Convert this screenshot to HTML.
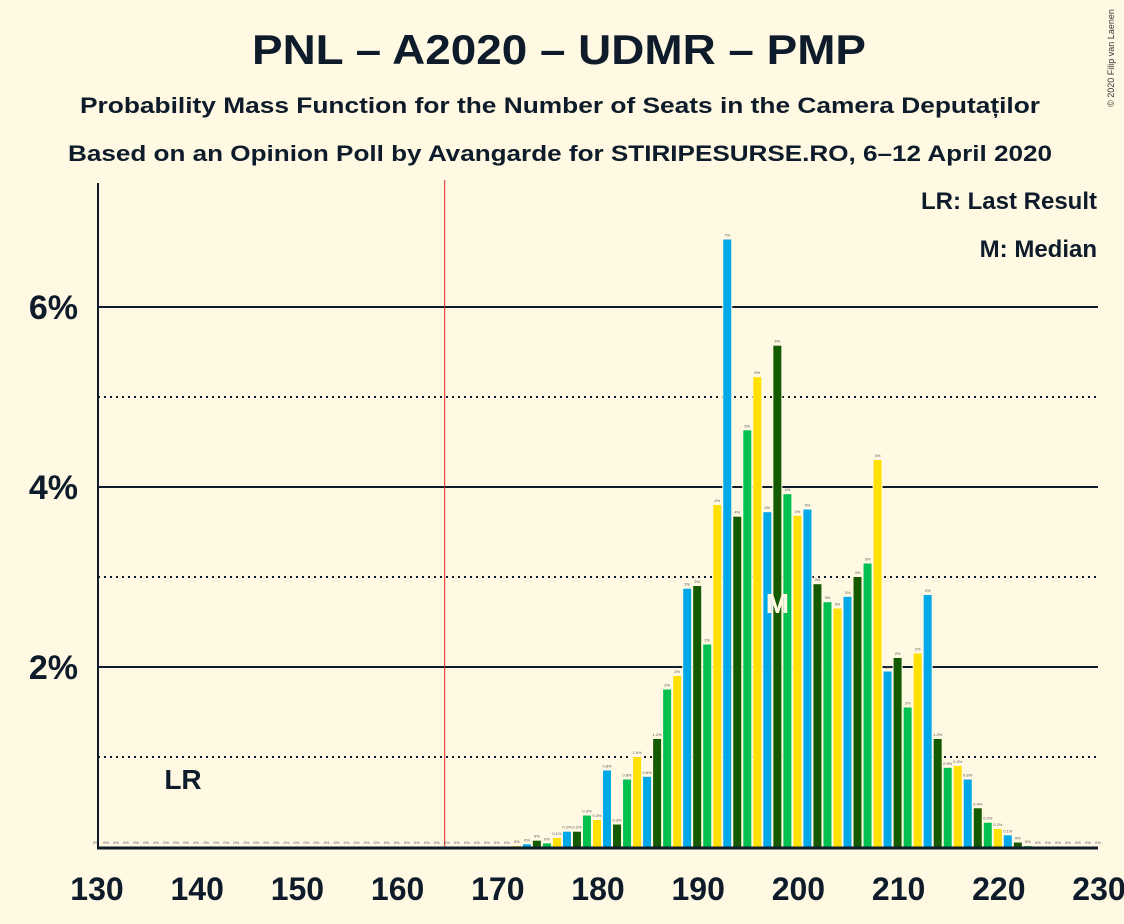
<!DOCTYPE html>
<html><head><meta charset="utf-8"><style>
body{margin:0;background:#fff9e3;}
svg{display:block;font-family:"Liberation Sans",sans-serif;}
</style></head><body>
<svg id="c" width="1124" height="924">
<rect width="1124" height="924" fill="#fff9e3"/>
<text x="252" y="64" textLength="614" lengthAdjust="spacingAndGlyphs" font-size="42" font-weight="bold" fill="#0d1b2a">PNL – A2020 – UDMR – PMP</text>
<text x="80" y="113" textLength="960" lengthAdjust="spacingAndGlyphs" font-size="22" font-weight="bold" fill="#0d1b2a">Probability Mass Function for the Number of Seats in the Camera Deputaților</text>
<text x="68" y="161" textLength="984" lengthAdjust="spacingAndGlyphs" font-size="22" font-weight="bold" fill="#0d1b2a">Based on an Opinion Poll by Avangarde for STIRIPESURSE.RO, 6–12 April 2020</text>
<text x="1114" y="58" font-size="9" fill="#333" transform="rotate(-90 1114 58)" text-anchor="middle">© 2020 Filip van Laenen</text>
<text x="1097" y="209" text-anchor="end" font-size="24" font-weight="bold" fill="#0d1b2a">LR: Last Result</text>
<text x="1097" y="257" text-anchor="end" font-size="24" font-weight="bold" fill="#0d1b2a">M: Median</text>
<g id="grid"></g><g id="bars"></g><g id="axes"></g>
</svg>
<script>
const seats=[];for(let s=130;s<=230;s++)seats.push(s);
const probs={172:0.01,173:0.03,174:0.07,175:0.04,176:0.1,177:0.17,178:0.17,179:0.35,180:0.3,181:0.85,182:0.25,183:0.75,184:1.0,185:0.78,186:1.2,187:1.75,188:1.9,189:2.87,190:2.9,191:2.25,192:3.8,193:6.75,194:3.67,195:4.63,196:5.22,197:3.72,198:5.57,199:3.92,200:3.68,201:3.75,202:2.92,203:2.72,204:2.65,205:2.78,206:3.0,207:3.15,208:4.3,209:1.95,210:2.1,211:1.55,212:2.15,213:2.8,214:1.2,215:0.88,216:0.9,217:0.75,218:0.43,219:0.27,220:0.2,221:0.13,222:0.05,223:0.01};
const xTicks=[130,140,150,160,170,180,190,200,210,220,230];
const yTicks=[2,4,6];
const yMinor=[1,3,5];
const lastResult=165, median=198;
const NS='http://www.w3.org/2000/svg';
const X=s=>96+(s-130)*10.02, Y=v=>847-v*90;
const colors=['#ffe000','#00a8e8','#145a00','#00c050'];
function mk(t,a,p){const e=document.createElementNS(NS,t);for(const k in a)e.setAttribute(k,a[k]);p.appendChild(e);return e;}
const grid=document.getElementById('grid'),bars=document.getElementById('bars'),axes=document.getElementById('axes');
yTicks.forEach(v=>{const l=mk('line',{x1:98,x2:1098,y1:Y(v),y2:Y(v),stroke:'#0d1b2a','stroke-width':2},grid);

const t=mk('text',{x:78,y:Y(v)+12,'text-anchor':'end','font-size':34,'font-weight':'bold',fill:'#0d1b2a'},axes);t.textContent=v+'%';
});
yMinor.forEach(v=>{const l=mk('line',{x1:98,x2:1098,y1:Y(v),y2:Y(v),stroke:'#0d1b2a','stroke-width':2,'stroke-dasharray':'2,4'},grid);
});
seats.forEach(s=>{const v=probs[s]||0;const x=X(s);
if(v>0){const r=mk('rect',{x:x-5,y:Y(v)-1,width:10,height:v*90+1,fill:'#fff9e3'},bars);

const b=mk('rect',{x:x-4,y:Y(v),width:8,height:v*90,fill:colors[s%4]},bars);
}
const t=mk('text',{x:x,y:Y(v)-3,'text-anchor':'middle','font-size':4,fill:'#555'},bars);
t.textContent=v>=1.5?Math.round(v)+'%':(v>=0.1?v.toFixed(1)+'%':'0%');
});
const m=mk('text',{x:X(median),y:613,'text-anchor':'middle','font-size':28,'font-weight':'bold',fill:'#fff9e3'},bars);m.textContent='M';

const lr=mk('line',{x1:X(lastResult)-2,x2:X(lastResult)-2,y1:180,y2:847,stroke:'#d22','stroke-width':1},axes);

const lrt=mk('text',{x:183,y:789,'text-anchor':'middle','font-size':28,'font-weight':'bold',fill:'#0d1b2a'},axes);lrt.textContent='LR';

const ya=mk('line',{x1:98,x2:98,y1:183,y2:848,stroke:'#0d1b2a','stroke-width':2},axes);

const xa=mk('line',{x1:97,x2:1098,y1:848,y2:848,stroke:'#0d1b2a','stroke-width':3},axes);

xTicks.forEach(s=>{const t=mk('text',{x:X(s)+1,y:900,'text-anchor':'middle','font-size':32,'font-weight':'bold',fill:'#0d1b2a'},axes);t.textContent=s;
});
</script>
</body></html>
